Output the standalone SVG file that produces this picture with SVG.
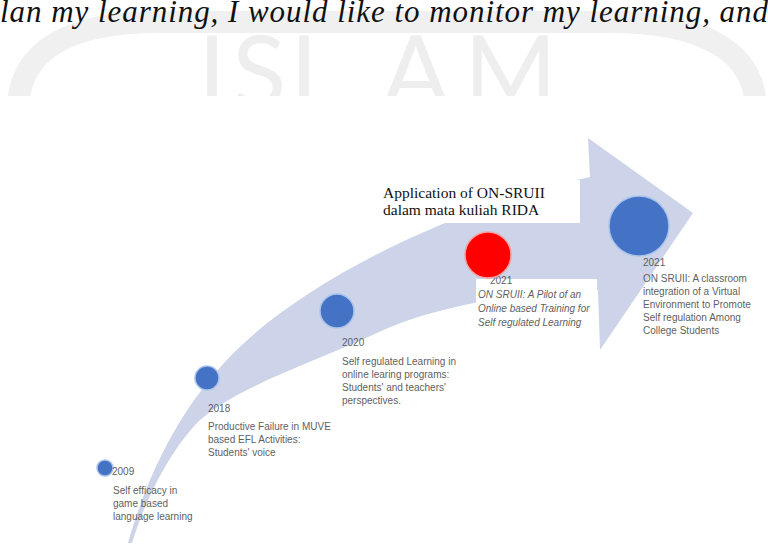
<svg xmlns="http://www.w3.org/2000/svg" width="768" height="545" viewBox="0 0 768 545">
  <defs>
    <style>
      .lbl { font-family: "Liberation Sans", Arial, sans-serif; font-size: 10px; fill: #5f5f5f; }
      .it { font-style: italic; }
      .serif { font-family: "Liberation Serif", "Times New Roman", serif; fill: #111; }
      .dot { fill: #4472c4; stroke: #a8c3ec; stroke-width: 1.5; }
      .wm { font-family: Lato, "Open Sans", sans-serif; font-size: 100px; fill: #eeeeee; }
    </style>
    <clipPath id="wmClip">
      <rect x="0" y="0" width="768" height="96"/>
    </clipPath>
  </defs>

  <rect width="768" height="545" fill="#ffffff"/>

  <!-- faint letterhead watermark, cut off at the page edge -->
  <g id="watermark" clip-path="url(#wmClip)">
    <path d="M18,110 C18,50 70,22 160,22 L610,22 C700,22 756,50 756,110" fill="none" stroke="#f0f0f0" stroke-width="22"/>
    <text class="wm" x="198" y="108">I</text>
    <text class="wm" x="232" y="108">S</text>
    <text class="wm" x="290" y="108">L</text>
    <text class="wm" x="382" y="108">A</text>
    <text class="wm" x="464" y="108">M</text>
  </g>

  <!-- running body text at the top edge -->
  <text id="bodyline" class="serif it" x="0" y="22" font-size="31" textLength="768" lengthAdjust="spacing">lan my learning, I would like to monitor my learning, and</text>

  <!-- curved timeline arrow -->
  <g id="connectors">
    <path d="M128,543 C150,465 185,405 225,362 C300,280 460,205 590,177 L588,138 L693,213 L600,350 L598,290 C500,292 420,312 377,333 C320,360 240,385 200,420 C170,450 145,500 132,543 Z" fill="#cdd3e8"/>
  </g>

  <g id="node-2009">
    <circle class="dot" cx="105" cy="468" r="8"/>
    <text class="lbl" x="112" y="475">2009</text>
    <text class="lbl" x="113" y="494">Self efficacy  in</text>
    <text class="lbl" x="113" y="507">game based</text>
    <text class="lbl" x="113" y="520">language learning</text>
  </g>

  <g id="node-2018">
    <circle class="dot" cx="207" cy="378" r="12"/>
    <text class="lbl" x="208" y="412">2018</text>
    <text class="lbl" x="208" y="430">Productive Failure in MUVE</text>
    <text class="lbl" x="208" y="443">based EFL Activities:</text>
    <text class="lbl" x="208" y="456">Students' voice</text>
  </g>

  <g id="node-2020">
    <circle class="dot" cx="337" cy="311" r="17"/>
    <text class="lbl" x="342" y="346">2020</text>
    <text class="lbl" x="342" y="365">Self regulated Learning in</text>
    <text class="lbl" x="342" y="378">online learing programs:</text>
    <text class="lbl" x="342" y="391">Students' and teachers'</text>
    <text class="lbl" x="342" y="404">perspectives.</text>
  </g>

  <g id="node-rida">
    <rect x="380" y="180" width="200" height="43" fill="#ffffff"/>
    <text class="serif" x="383" y="198" font-size="15.5">Application of ON-SRUII</text>
    <text class="serif" x="383" y="215" font-size="15.5">dalam mata kuliah RIDA</text>
  </g>

  <g id="node-2021-pilot">
    <rect x="476" y="279" width="121" height="57" fill="#ffffff"/>
    <text class="lbl" x="490" y="284">2021</text>
    <circle cx="488" cy="255" r="23" fill="#ff0000" stroke="#f5a0a0" stroke-width="1.5"/>
    <text class="lbl it" x="478" y="298">ON SRUII: A Pilot of an</text>
    <text class="lbl it" x="478" y="312">Online based Training for</text>
    <text class="lbl it" x="478" y="326">Self regulated Learning</text>
  </g>

  <g id="node-2021-classroom">
    <circle class="dot" cx="639" cy="226" r="30"/>
    <text class="lbl" x="643" y="266">2021</text>
    <text class="lbl" x="643" y="282">ON SRUII: A classroom</text>
    <text class="lbl" x="643" y="295">integration of a Virtual</text>
    <text class="lbl" x="643" y="308">Environment to Promote</text>
    <text class="lbl" x="643" y="321">Self regulation Among</text>
    <text class="lbl" x="643" y="334">College Students</text>
  </g>
</svg>
